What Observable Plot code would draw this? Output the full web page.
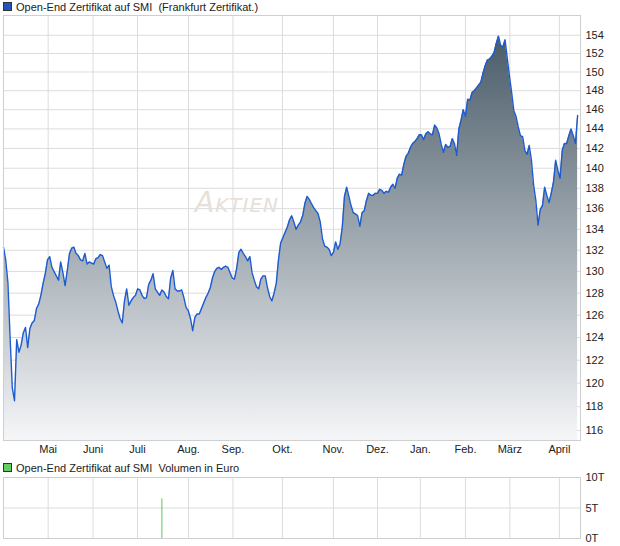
<!DOCTYPE html>
<html><head><meta charset="utf-8">
<script src="https://cdn.jsdelivr.net/npm/d3@7"></script>
<script src="https://cdn.jsdelivr.net/npm/@observablehq/plot@0.6"></script>
<style>
body{margin:0;background:#fff;font-family:"Liberation Sans",Arial,sans-serif;}
#wrap{position:relative;width:620px;height:546px;overflow:hidden}
.leg{position:absolute;left:3px;font-size:11px;color:#222;display:flex;align-items:center;white-space:pre;z-index:2}
.sw{width:7px;height:7px;border:1px solid #333;margin-right:4px;display:inline-block}
#topChart,#botChart{position:absolute;left:0}
</style></head><body>
<div id="wrap">
<div id="topChart" style="top:0"></div>
<div id="botChart" style="top:460px"></div>
<div class="leg" style="top:0px;height:13px"><span class="sw" style="background:#2255bb"></span>Open-End Zertifikat auf SMI  (Frankfurt Zertifikat.)</div>
<div class="leg" style="top:461px;height:13px"><span class="sw" style="background:#66cc66"></span>Open-End Zertifikat auf SMI  Volumen in Euro</div>
</div>
<script>
// Daily closing prices (trading-day index = position in array)
const prices = [
132.3,131.1,129.0,124.0,119.6,118.5,123.8,122.7,123.3,124.4,
124.9,123.1,124.8,125.3,125.5,126.6,127.0,127.8,128.9,129.8,
131.1,131.4,130.4,130.0,129.6,129.2,130.9,129.9,128.7,130.1,
131.7,132.2,132.3,131.7,131.5,131.1,131.0,131.7,130.7,130.9,
130.8,130.7,131.2,131.3,131.6,131.5,130.9,130.3,130.6,128.6,
127.8,127.2,126.4,125.7,125.3,127.3,128.4,126.9,127.3,127.6,
127.8,128.4,128.3,127.8,127.5,127.6,128.8,129.2,129.8,128.4,
128.1,127.8,128.3,128.1,127.7,127.5,129.4,130.1,128.4,128.2,
128.2,128.3,127.6,126.7,126.4,125.7,124.6,125.8,126.1,126.1,
126.6,127.1,127.6,128.0,128.5,129.4,130.0,130.3,130.4,130.2,
130.4,130.5,130.4,129.9,129.4,129.3,130.3,131.8,132.1,131.7,
131.4,131.0,131.4,129.9,129.2,128.6,128.4,129.3,129.6,129.6,
128.5,127.7,127.3,128.0,128.9,131.1,132.7,133.2,133.7,134.2,
134.9,135.3,134.7,134.0,134.4,134.7,135.3,136.5,137.2,136.9,
136.5,136.1,135.8,135.5,134.7,133.1,132.4,132.3,132.1,131.5,
131.8,132.8,132.1,132.6,134.2,137.2,138.1,137.2,136.3,135.6,
135.5,135.3,134.3,135.6,135.8,136.8,137.5,137.3,137.3,137.5,
137.5,137.9,137.8,137.5,137.7,137.6,138.1,138.4,138.0,139.0,
139.4,139.3,140.4,141.2,141.5,142.1,142.5,142.7,143.0,143.4,
143.4,142.9,143.5,143.7,143.5,143.4,144.4,144.1,143.5,142.4,
141.6,142.4,142.1,142.2,143.0,142.5,141.3,144.0,144.9,146.0,
145.3,147.1,147.0,147.8,148.0,148.3,148.6,148.9,149.9,150.7,
151.3,151.4,151.7,152.1,153.1,153.9,152.9,152.7,153.5,151.5,
149.6,147.8,145.9,145.3,144.2,143.3,143.2,141.8,141.4,142.3,
140.8,138.3,136.8,134.4,135.9,136.3,138.1,137.3,136.6,137.5,
138.6,140.8,139.8,139.0,141.8,142.5,142.5,143.3,144.0,143.3,
142.5,145.4
];
// Month starts (trading-day index) and labels
const monthPos = [20.3,40.7,60.9,84.1,104.3,126.8,150,170,189.5,210,230.2,252.7];
const monthLabels = ["Mai","Juni","Juli","Aug.","Sep.","Okt.","Nov.","Dez.","Jan.","Feb.","März","April"];
const priceTicks = [116,118,120,122,124,126,128,130,132,134,136,138,140,142,144,146,148,150,152,154];
// Volume (Euro)
const volDay = [72];
const volValue = [6500];
const volTicks = [0,5000,10000];
const volTickLabels = ["0T","5T","10T"];

const data = prices.map((v,i)=>({d:i, v}));
const vol = volDay.map((d,i)=>({d, v: volValue[i]}));
const xDomain = [0, 262.3];
const yLo = 115.17, yHi = 156.2;
const fmtMonth = d => monthLabels[monthPos.indexOf(d)];
const font = {fontFamily:"'Liberation Sans', Arial, sans-serif", fontSize:"11px", color:"#222", background:"transparent", overflow:"visible"};

const gradient = () => {
  const defs = document.createElementNS("http://www.w3.org/2000/svg","defs");
  defs.innerHTML = `<linearGradient id="fillg" x1="0" y1="0" x2="0" y2="1"><stop offset="0" stop-color="#4a5c69"/><stop offset="1" stop-color="#f5f6f8"/></linearGradient>`;
  return defs;
};

const topPlot = Plot.plot({
  width: 620, height: 460,
  marginTop: 15, marginBottom: 20, marginLeft: 3, marginRight: 40,
  style: font,
  x: {domain: xDomain, axis: null, label: null},
  y: {type: "log", domain: [yLo, yHi], axis: null, label: null},
  marks: [
    gradient,
    Plot.gridX(monthPos, {stroke: "#dcdcdc", strokeOpacity: 1}),
    Plot.gridY(priceTicks, {stroke: "#dcdcdc", strokeOpacity: 1}),
    Plot.text(["AKTIEN"], {frameAnchor: "middle", dx: -55, dy: -22, fill: "#e6e0d8", fontSize: 20, fontStyle: "italic", fontFamily: "'DejaVu Sans', sans-serif",
      render: (index, scales, values, dims, context, next) => {
        const g = next(index, scales, values, dims, context);
        g.querySelectorAll("text").forEach(t => {
          t.textContent = "";
          const ns = "http://www.w3.org/2000/svg";
          const a = document.createElementNS(ns, "tspan"); a.setAttribute("font-size", "28"); a.textContent = "A";
          const b = document.createElementNS(ns, "tspan"); b.textContent = "KTIEN";
          t.appendChild(a); t.appendChild(b);
          t.setAttribute("letter-spacing", "1");
        });
        return g;
      }}),
    Plot.areaY(data, {x: "d", y1: () => yLo, y2: "v", fill: "url(#fillg)"}),
    Plot.lineY(data, {x: "d", y: "v", stroke: "#1d5bd0", strokeWidth: 1.4}),
    Plot.frame({stroke: "#cfcfcf"}),
    Plot.axisX(monthPos, {anchor: "bottom", tickSize: 0, tickPadding: 5, tickFormat: fmtMonth, fill: "#222", label: null}),
    Plot.axisY(priceTicks, {anchor: "right", tickSize: 0, tickPadding: 5, fill: "#222", tickFormat: d => String(d), label: null})
  ]
});
document.getElementById("topChart").appendChild(topPlot);

const botPlot = Plot.plot({
  width: 620, height: 86,
  marginTop: 17, marginBottom: 8, marginLeft: 3, marginRight: 40,
  style: font,
  x: {domain: xDomain, axis: null, label: null},
  y: {domain: [0, 10000], axis: null, label: null},
  marks: [
    Plot.gridX(monthPos, {stroke: "#dcdcdc", strokeOpacity: 1}),
    Plot.gridY([volTicks[1]], {stroke: "#dcdcdc", strokeOpacity: 1}),
    Plot.ruleX(vol, {x: "d", y1: 0, y2: "v", stroke: "#55cc55", strokeWidth: 1}),
    Plot.frame({stroke: "#cfcfcf"}),
    Plot.axisY(volTicks, {anchor: "right", tickSize: 0, tickPadding: 5, fill: "#222", label: null, tickFormat: d => volTickLabels[volTicks.indexOf(d)]})
  ]
});
document.getElementById("botChart").appendChild(botPlot);
</script>
</body></html>
